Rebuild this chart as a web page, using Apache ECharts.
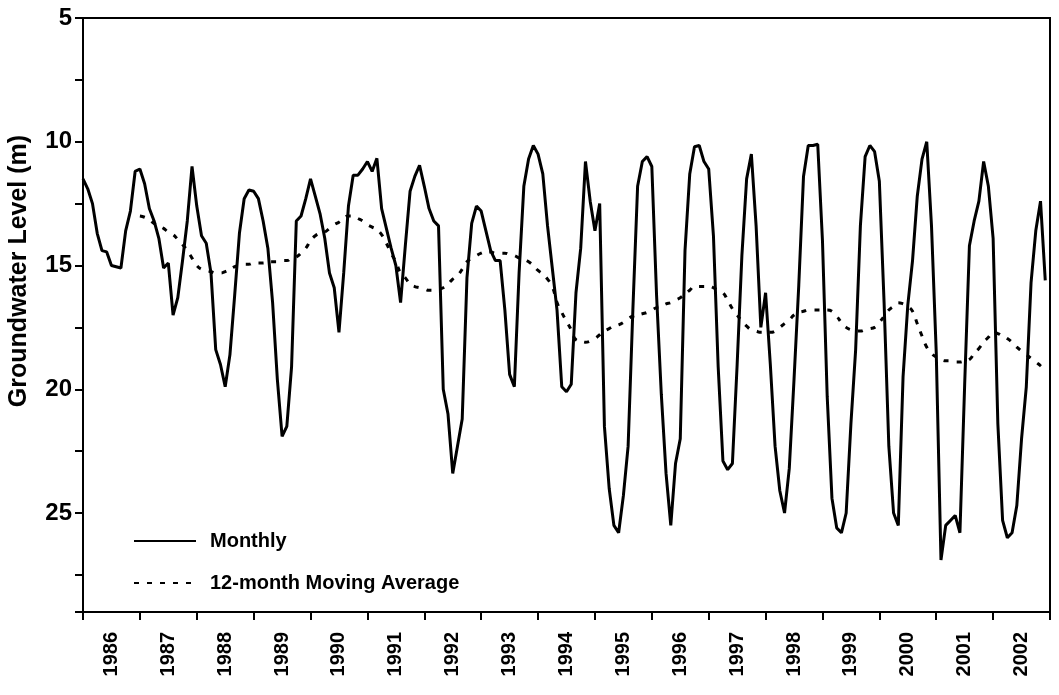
<!DOCTYPE html>
<html>
<head>
<meta charset="utf-8">
<title>Groundwater Level</title>
<script src="https://cdn.jsdelivr.net/npm/echarts@6/dist/echarts.min.js"></script>
<style>
  html, body { margin: 0; padding: 0; background: #fff; }
  #chart { width: 1059px; height: 695px; }
</style>
</head>
<body>
<div id="chart"></div>
<script>
// year labels, one per 12 months
const years = ['1986', '1987', '1988', '1989', '1990', '1991', '1992', '1993', '1994',
  '1995', '1996', '1997', '1998', '1999', '2000', '2001', '2002'];

// y ticks every 2.5 m, labels every 5 m (axis is inverted: depth)
const yMin = 5;
const yMax = 29;
const yStep = 2.5;

// monthly groundwater level (m), Jan 1986 .. Dec 2002
const monthly = [
  11.5, 11.9, 12.5, 13.7, 14.4, 14.45, 15.0, 15.05, 15.1, 13.6, 12.8, 11.2,   // 1986
  11.1, 11.7, 12.7, 13.2, 13.9, 15.1, 14.9, 17.0, 16.3, 14.8, 13.2, 11.0,     // 1987
  12.6, 13.8, 14.1, 15.3, 18.4, 19.0, 19.9, 18.6, 16.2, 13.7, 12.3, 11.95,    // 1988
  12.0, 12.3, 13.2, 14.3, 16.5, 19.6, 21.9, 21.5, 19.1, 13.2, 13.0, 12.3,     // 1989
  11.5, 12.2, 12.9, 13.9, 15.3, 15.9, 17.7, 15.3, 12.6, 11.35, 11.35, 11.1,   // 1990
  10.8, 11.2, 10.67, 12.7, 13.5, 14.3, 15.0, 16.5, 14.2, 12.0, 11.4, 10.95,   // 1991
  11.8, 12.7, 13.2, 13.4, 20.0, 21.0, 23.4, 22.3, 21.2, 15.5, 13.3, 12.6,     // 1992
  12.8, 13.6, 14.4, 14.8, 14.8, 16.8, 19.4, 19.9, 15.3, 11.8, 10.7, 10.15,    // 1993
  10.5, 11.3, 13.4, 15.1, 16.8, 19.9, 20.1, 19.8, 16.1, 14.3, 10.8, 12.4,     // 1994
  13.6, 12.5, 21.5, 24.0, 25.5, 25.8, 24.3, 22.3, 16.8, 11.8, 10.8, 10.6,     // 1995
  11.0, 16.2, 20.2, 23.4, 25.5, 23.0, 22.0, 14.4, 11.3, 10.2, 10.15, 10.8,    // 1996
  11.1, 13.8, 19.1, 22.9, 23.25, 23.0, 19.0, 14.6, 11.5, 10.5, 13.4, 17.5,    // 1997
  16.1, 19.0, 22.3, 24.1, 25.0, 23.2, 19.6, 15.8, 11.4, 10.15, 10.15, 10.1,   // 1998
  14.0, 20.3, 24.4, 25.6, 25.8, 25.0, 21.4, 18.4, 13.4, 10.6, 10.15, 10.4,    // 1999
  11.6, 16.5, 22.3, 25.0, 25.5, 19.5, 16.6, 14.8, 12.2, 10.7, 10.0, 13.4,     // 2000
  18.5, 26.9, 25.5, 25.3, 25.1, 25.8, 19.8, 14.2, 13.2, 12.4, 10.8, 11.8,     // 2001
  13.9, 21.4, 25.3, 26.0, 25.8, 24.7, 22.0, 19.9, 15.7, 13.6, 12.4, 15.6      // 2002
];

// 12-month moving average, first value at month 12 (Jan 1987)
const maStartMonth = 12;
const movingAvg = [
  13.0, 13.05, 13.15, 13.3, 13.4, 13.5, 13.65, 13.75, 13.95, 14.15, 14.4, 14.7,      // 1987
  15.0, 15.15, 15.2, 15.25, 15.3, 15.3, 15.25, 15.15, 15.05, 15.0, 14.95, 14.95,    // 1988
  14.9, 14.9, 14.9, 14.85, 14.85, 14.85, 14.8, 14.8, 14.7, 14.65, 14.5, 14.3,       // 1989
  14.0, 13.8, 13.7, 13.65, 13.5, 13.35, 13.25, 13.1, 13.0, 13.0, 13.1, 13.2,        // 1990
  13.35, 13.45, 13.55, 13.75, 14.1, 14.5, 14.85, 15.3, 15.5, 15.75, 15.85, 15.9,    // 1991
  15.95, 16.0, 16.0, 15.95, 15.9, 15.75, 15.55, 15.4, 15.15, 14.85, 14.7, 14.6,     // 1992
  14.5, 14.45, 14.45, 14.5, 14.5, 14.5, 14.55, 14.6, 14.7, 14.75, 14.85, 15.0,      // 1993
  15.2, 15.35, 15.55, 15.85, 16.5, 16.9, 17.25, 17.6, 18.0, 18.05, 18.1, 18.05,     // 1994
  17.95, 17.8, 17.65, 17.55, 17.45, 17.4, 17.3, 17.15, 17.05, 17.0, 16.95, 16.9,    // 1995
  16.8, 16.7, 16.65, 16.55, 16.5, 16.4, 16.3, 16.15, 16.0, 15.85, 15.85, 15.85,     // 1996
  15.85, 15.9, 16.0, 16.1, 16.4, 16.75, 17.0, 17.25, 17.45, 17.6, 17.65, 17.7,      // 1997
  17.7, 17.7, 17.65, 17.5, 17.35, 17.2, 17.0, 16.9, 16.85, 16.8, 16.8, 16.8,        // 1998
  16.8, 16.8, 16.85, 17.05, 17.3, 17.5, 17.6, 17.65, 17.65, 17.6, 17.55, 17.5,      // 1999
  17.3, 17.05, 16.8, 16.65, 16.5, 16.55, 16.65, 16.85, 17.35, 17.85, 18.3, 18.55,   // 2000
  18.7, 18.8, 18.85, 18.85, 18.9, 18.9, 18.85, 18.8, 18.55, 18.35, 18.1, 17.9,      // 2001
  17.7, 17.75, 17.85, 17.95, 18.1, 18.3, 18.45, 18.6, 18.75, 18.9, 19.05, 19.25     // 2002
];

const FONT = 'Liberation Sans, Arial, sans-serif';

const monthlyData = monthly.map((v, i) => [i, v]);
const maData = movingAvg.map((v, i) => [i + maStartMonth, v]);

const chart = echarts.init(document.getElementById('chart'), null, { renderer: 'canvas' });

chart.setOption({
  animation: false,
  backgroundColor: '#fff',
  grid: {
    left: 83, right: 9, top: 18, bottom: 83,
    outerBoundsMode: 'none',
    show: true, borderColor: '#000', borderWidth: 2, backgroundColor: 'transparent'
  },
  legend: {
    orient: 'vertical',
    left: 128, top: 526,
    itemWidth: 62, itemHeight: 14, itemGap: 22,
    itemStyle: { opacity: 0 },
    textStyle: { fontFamily: FONT, fontWeight: 'bold', fontSize: 20, color: '#000', padding: [0, 0, 0, 9] },
    data: ['Monthly', '12-month Moving Average']
  },
  xAxis: [
    {
      type: 'value', min: 0, max: years.length * 12, interval: 12,
      axisLine: { lineStyle: { color: '#000', width: 2 } },
      axisTick: { show: true, length: 8, lineStyle: { color: '#000', width: 2 } },
      axisLabel: { show: false },
      splitLine: { show: false }
    },
    {
      type: 'category', position: 'bottom', data: years, boundaryGap: true,
      axisLine: { show: false }, axisTick: { show: false },
      axisLabel: {
        rotate: 90, margin: 20, interval: 0,
        fontFamily: FONT, fontWeight: 'bold', fontSize: 20, color: '#000'
      }
    }
  ],
  yAxis: {
    type: 'value', inverse: true, min: yMin, max: yMax, interval: yStep,
    name: 'Groundwater Level (m)', nameLocation: 'middle', nameGap: 51,
    nameTextStyle: { fontFamily: FONT, fontWeight: 'bold', fontSize: 25, color: '#000', padding: [0, 0, 0, 88] },
    axisLine: { show: true, lineStyle: { color: '#000', width: 2 } },
    axisTick: { show: true, length: 8, lineStyle: { color: '#000', width: 2 } },
    axisLabel: {
      margin: 11, fontFamily: FONT, fontWeight: 'bold', fontSize: 24, color: '#000',
      formatter: v => (v % 5 === 0 ? String(v) : '')
    },
    splitLine: { show: false }
  },
  series: [
    {
      name: 'Monthly', type: 'line', xAxisIndex: 0, data: monthlyData,
      symbol: 'none', lineStyle: { color: '#000', width: 3 }, itemStyle: { color: '#000' }
    },
    {
      name: '12-month Moving Average', type: 'line', xAxisIndex: 0, data: maData,
      symbol: 'none', smooth: true,
      lineStyle: { color: '#000', width: 3, type: [5, 8] }, itemStyle: { color: '#000' }
    }
  ]
});
</script>
</body>
</html>
